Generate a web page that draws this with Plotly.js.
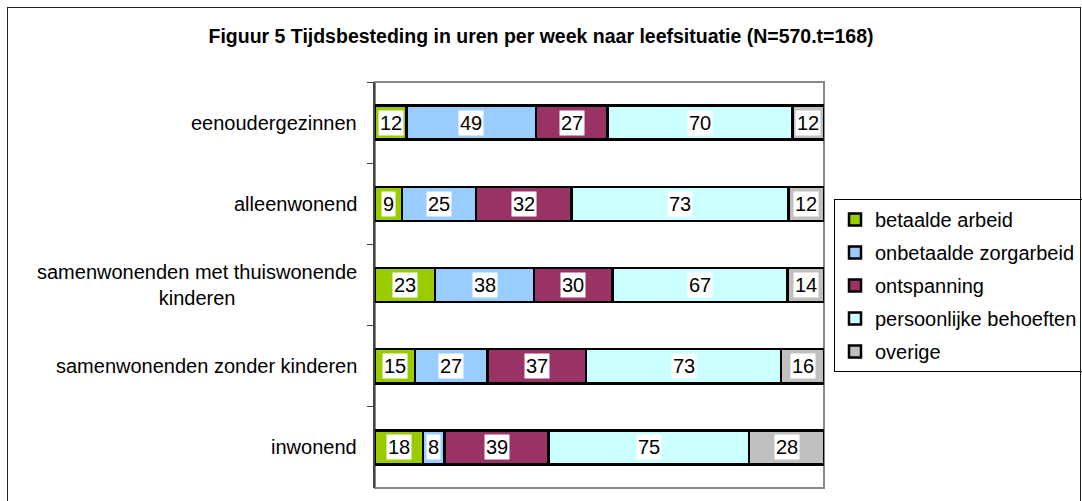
<!DOCTYPE html>
<html>
<head>
<meta charset="utf-8">
<script src="https://cdn.plot.ly/plotly-3.0.1.min.js"></script>
<style>
  html, body { margin: 0; padding: 0; background: #fff; }
  #wrap { position: relative; width: 1082px; height: 501px; overflow: hidden; }
  #chart { width: 1082px; height: 501px; }
  #frame { position: absolute; left: 7px; top: 7px; width: 1074px; height: 520px;
           border: 1px solid #222; box-sizing: border-box; pointer-events: none; }
</style>
</head>
<body>
<div id="wrap"><div id="chart"></div><div id="frame"></div></div>
<script>
const categories = ['eenoudergezinnen', 'alleenwonend', 'samenwonenden met thuiswonende<br>kinderen', 'samenwonenden zonder kinderen', 'inwonend'];
const seriesNames = ['betaalde arbeid', 'onbetaalde zorgarbeid', 'ontspanning', 'persoonlijke behoeften', 'overige'];
const betaaldeArbeid = [12, 9, 23, 15, 18];
const onbetaaldeZorgarbeid = [49, 25, 38, 27, 8];
const ontspanning = [27, 32, 30, 37, 39];
const persoonlijkeBehoeften = [70, 73, 67, 73, 75];
const overige = [12, 12, 14, 16, 28];
const colors = ['#99CC00', '#99CCFF', '#993366', '#CCFFFF', '#C0C0C0'];

const series = [betaaldeArbeid, onbetaaldeZorgarbeid, ontspanning, persoonlijkeBehoeften, overige];
const FONT = 'Liberation Sans, Arial, sans-serif';

const traces = series.map((vals, i) => ({
  type: 'bar',
  orientation: 'h',
  name: seriesNames[i],
  y: categories,
  x: vals,
  marker: { color: colors[i], line: { color: '#000', width: 2.5 } },
  legendgroup: 'g' + i,
  hoverinfo: 'skip'
}));

// value labels with white background, centred in each (normalised) segment
const annotations = [];
categories.forEach((cat, r) => {
  const total = series.reduce((s, arr) => s + arr[r], 0);
  let cum = 0;
  series.forEach((arr) => {
    const v = arr[r];
    annotations.push({
      x: (cum + v / 2) / total * 100, y: cat, xref: 'x', yref: 'y',
      text: String(v), showarrow: false,
      font: { family: FONT, size: 20, color: '#000' },
      bgcolor: '#fff', borderpad: 1
    });
    cum += v;
  });
  // category label, centred multi-line
  annotations.push({
    x: 0, y: cat, xref: 'paper', yref: 'y', xanchor: 'right', xshift: -16,
    text: cat, showarrow: false, align: 'center',
    font: { family: FONT, size: 20, color: '#000' }
  });
});

const layout = {
  width: 1082, height: 501,
  margin: { l: 375, r: 258, t: 82, b: 13, pad: 0, autoexpand: false },
  paper_bgcolor: '#fff', plot_bgcolor: '#fff',
  barmode: 'stack', barnorm: 'percent', bargap: 0.58,
  title: {
    text: '<b>Figuur 5 Tijdsbesteding in uren per week naar leefsituatie (N=570.t=168)</b>',
    font: { family: FONT, size: 19.5, color: '#000' },
    x: 0.5, xref: 'container', xanchor: 'center',
    y: 1 - 36 / 501, yref: 'container', yanchor: 'middle'
  },
  xaxis: { range: [0, 100], showgrid: false, zeroline: false, showticklabels: false, ticks: '', fixedrange: true },
  yaxis: {
    type: 'category', autorange: 'reversed', showgrid: false, zeroline: false,
    showline: true, linecolor: '#444', linewidth: 2,
    ticks: 'outside', tickson: 'boundaries', ticklen: 6, tickcolor: '#444', tickwidth: 1,
    showticklabels: false, fixedrange: true
  },
  shapes: [{
    type: 'rect', xref: 'paper', yref: 'paper', x0: 0, x1: 1, y0: 0, y1: 1,
    line: { color: '#888', width: 2 }, layer: 'below'
  }],
  annotations: annotations,
  showlegend: true,
  legend: {
    xref: 'container', yref: 'container',
    x: 834 / 1082, xanchor: 'left', y: 1 - 199 / 501, yanchor: 'top',
    traceorder: 'grouped', tracegroupgap: 4,
    bgcolor: '#fff', bordercolor: '#000', borderwidth: 1,
    font: { family: FONT, size: 20, color: '#000' }
  }
};

Plotly.newPlot('chart', traces, layout, { staticPlot: true, displayModeBar: false });
</script>
</body>
</html>
